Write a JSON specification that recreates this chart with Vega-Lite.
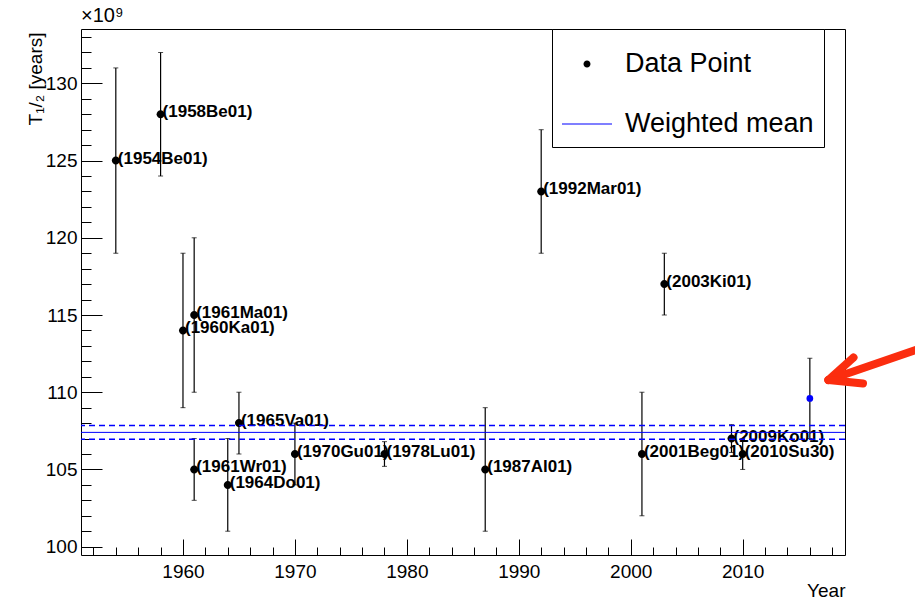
{
  "$schema": "https://vega.github.io/schema/vega-lite/v6.json",
  "width": 764,
  "height": 526,
  "autosize": {"type": "none"},
  "padding": {"left": 81, "top": 29, "right": 70, "bottom": 44},
  "background": "white",
  "title": {
    "text": "×10⁹",
    "anchor": "start",
    "frame": "group",
    "font": "Liberation Sans",
    "fontSize": 20,
    "fontWeight": "normal",
    "color": "black",
    "offset": 3
  },
  "config": {
    "view": {"stroke": "black", "strokeWidth": 1},
    "font": "Liberation Sans",
    "axis": {
      "domain": false,
      "grid": false,
      "tickColor": "black",
      "tickWidth": 1,
      "labelColor": "black",
      "labelFont": "Liberation Sans",
      "labelFontSize": 19,
      "titleFont": "Liberation Sans",
      "titleFontSize": 19,
      "titleFontWeight": "normal",
      "titleColor": "black"
    },
    "legend": {
      "orient": "none",
      "legendX": 471,
      "legendY": 0,
      "padding": 10,
      "strokeColor": "black",
      "fillColor": "white",
      "symbolSize": 2500,
      "symbolStrokeWidth": 0,
      "symbolOpacity": 1,
      "rowPadding": 22,
      "labelOffset": 13,
      "labelFont": "Liberation Sans",
      "labelFontSize": 27,
      "labelColor": "black",
      "labelLimit": 400
    }
  },
  "datasets": {
    "measurements": [
      {"year": 1954, "t": 125, "lo": 119, "hi": 131, "ref": "(1954Be01)", "kind": "Data Point"},
      {"year": 1958, "t": 128, "lo": 124, "hi": 132, "ref": "(1958Be01)", "kind": "Data Point"},
      {"year": 1960, "t": 114, "lo": 109, "hi": 119, "ref": "(1960Ka01)", "kind": "Data Point"},
      {"year": 1961, "t": 115, "lo": 110, "hi": 120, "ref": "(1961Ma01)", "kind": "Data Point"},
      {"year": 1961, "t": 105, "lo": 103, "hi": 107, "ref": "(1961Wr01)", "kind": "Data Point"},
      {"year": 1964, "t": 104, "lo": 101, "hi": 107, "ref": "(1964Do01)", "kind": "Data Point"},
      {"year": 1965, "t": 108, "lo": 106, "hi": 110, "ref": "(1965Va01)", "kind": "Data Point"},
      {"year": 1970, "t": 106, "lo": 104, "hi": 108, "ref": "(1970Gu01)", "kind": "Data Point"},
      {"year": 1978, "t": 106, "lo": 105.2, "hi": 106.8, "ref": "(1978Lu01)", "kind": "Data Point"},
      {"year": 1987, "t": 105, "lo": 101, "hi": 109, "ref": "(1987Al01)", "kind": "Data Point"},
      {"year": 1992, "t": 123, "lo": 119, "hi": 127, "ref": "(1992Mar01)", "kind": "Data Point"},
      {"year": 2001, "t": 106, "lo": 102, "hi": 110, "ref": "(2001Beg01)", "kind": "Data Point"},
      {"year": 2003, "t": 117, "lo": 115, "hi": 119, "ref": "(2003Ki01)", "kind": "Data Point"},
      {"year": 2009, "t": 107, "lo": 106.1, "hi": 107.9, "ref": "(2009Ko01)", "kind": "Data Point"},
      {"year": 2010, "t": 106, "lo": 105, "hi": 107, "ref": "(2010Su30)", "kind": "Data Point"},
      {"year": 2016, "t": 109.6, "lo": 107.0, "hi": 112.2, "ref": "", "kind": "Evaluated"}
    ],
    "mean": [
      {"t": 107.4, "line": "mean", "kind": "Weighted mean"},
      {"t": 106.95, "line": "band", "kind": "Weighted mean"},
      {"t": 107.85, "line": "band", "kind": "Weighted mean"}
    ],
    "arrow": [
      {"fromYear": 2026.9, "fromT": 113.1, "toYear": 2017.66, "toT": 110.79},
      {"fromYear": 2017.66, "fromT": 110.79, "toYear": 2019.9, "toT": 112.25},
      {"fromYear": 2017.66, "fromT": 110.79, "toYear": 2020.75, "toT": 110.57}
    ]
  },
  "resolve": {"axis": {"x": "independent", "y": "independent"}},
  "layer": [
    {
      "data": {"name": "measurements"},
      "mark": {"type": "rule", "color": "black", "strokeWidth": 1.2},
      "encoding": {
        "x": {
          "field": "year", "type": "quantitative",
          "scale": {"domain": [1950.89, 2019.14], "nice": false, "zero": false},
          "axis": {
            "orient": "bottom", "title": null, "labels": false, "tickSize": -8,
            "values": [1952, 1954, 1956, 1958, 1960, 1962, 1964, 1966, 1968, 1970, 1972, 1974, 1976, 1978, 1980, 1982, 1984, 1986, 1988, 1990, 1992, 1994, 1996, 1998, 2000, 2002, 2004, 2006, 2008, 2010, 2012, 2014, 2016, 2018]
          }
        },
        "y": {
          "field": "lo", "type": "quantitative",
          "scale": {"domain": [99.46, 133.52], "nice": false, "zero": false},
          "axis": {
            "orient": "left", "title": null, "labels": false, "tickSize": -10,
            "values": [100, 101, 102, 103, 104, 105, 106, 107, 108, 109, 110, 111, 112, 113, 114, 115, 116, 117, 118, 119, 120, 121, 122, 123, 124, 125, 126, 127, 128, 129, 130, 131, 132, 133]
          }
        },
        "y2": {"field": "hi"}
      }
    },
    {
      "data": {"name": "measurements"},
      "mark": {"type": "tick", "orient": "horizontal", "color": "black", "size": 5, "thickness": 1},
      "encoding": {
        "x": {"field": "year", "type": "quantitative", "scale": {"domain": [1950.89, 2019.14], "nice": false, "zero": false}, "axis": null},
        "y": {"field": "lo", "type": "quantitative", "scale": {"domain": [99.46, 133.52], "nice": false, "zero": false}, "axis": null}
      }
    },
    {
      "data": {"name": "measurements"},
      "mark": {"type": "tick", "orient": "horizontal", "color": "black", "size": 5, "thickness": 1},
      "encoding": {
        "x": {"field": "year", "type": "quantitative", "scale": {"domain": [1950.89, 2019.14], "nice": false, "zero": false}, "axis": null},
        "y": {"field": "hi", "type": "quantitative", "scale": {"domain": [99.46, 133.52], "nice": false, "zero": false}, "axis": null}
      }
    },
    {
      "data": {"name": "measurements"},
      "transform": [{"filter": "datum.kind === 'Data Point'"}],
      "mark": {"type": "point", "filled": true, "size": 3265, "opacity": 1, "strokeWidth": 0},
      "encoding": {
        "x": {
          "field": "year", "type": "quantitative",
          "scale": {"domain": [1950.89, 2019.14], "nice": false, "zero": false},
          "axis": {
            "orient": "bottom", "values": [1960, 1970, 1980, 1990, 2000, 2010],
            "tickSize": -16, "labelPadding": 23, "format": "d",
            "title": "Year", "titleAnchor": "end", "titleAlign": "right",
            "titleBaseline": "alphabetic", "titleX": 764, "titleY": 41
          }
        },
        "y": {
          "field": "t", "type": "quantitative",
          "scale": {"domain": [99.46, 133.52], "nice": false, "zero": false},
          "axis": {
            "orient": "left", "values": [100, 105, 110, 115, 120, 125, 130],
            "tickSize": -21, "labelPadding": 25,
            "title": "T₁/₂ [years]", "titleAngle": -90, "titleAlign": "right",
            "titleBaseline": "alphabetic", "titleX": -40, "titleY": 3
          }
        },
        "color": {
          "field": "kind", "type": "nominal",
          "scale": {"domain": ["Data Point", "Weighted mean"], "range": ["black", "#0000ff"]},
          "legend": {"title": null, "labelExpr": "datum.label + '\u00a0\u00a0'"}
        },
        "shape": {
          "field": "kind", "type": "nominal",
          "scale": {
            "domain": ["Data Point", "Weighted mean"],
            "range": ["M-0.14,0A0.14,0.14,0,1,0,0.14,0A0.14,0.14,0,1,0,-0.14,0Z", "M-1,-0.022H1V0.022H-1Z"]
          },
          "legend": {"title": null, "labelExpr": "datum.label + '\u00a0\u00a0'"}
        }
      }
    },
    {
      "data": {"name": "measurements"},
      "transform": [{"filter": "datum.kind === 'Evaluated'"}],
      "mark": {"type": "point", "filled": true, "size": 45, "opacity": 1, "color": "#0000ff"},
      "encoding": {
        "x": {"field": "year", "type": "quantitative", "scale": {"domain": [1950.89, 2019.14], "nice": false, "zero": false}, "axis": null},
        "y": {"field": "t", "type": "quantitative", "scale": {"domain": [99.46, 133.52], "nice": false, "zero": false}, "axis": null}
      }
    },
    {
      "data": {"name": "measurements"},
      "transform": [{"filter": "datum.kind === 'Data Point'"}],
      "mark": {
        "type": "text", "align": "left", "baseline": "alphabetic", "dx": 2, "dy": 3,
        "font": "Liberation Sans", "fontSize": 17, "fontWeight": "bold", "color": "black"
      },
      "encoding": {
        "x": {"field": "year", "type": "quantitative", "scale": {"domain": [1950.89, 2019.14], "nice": false, "zero": false}, "axis": null},
        "y": {"field": "t", "type": "quantitative", "scale": {"domain": [99.46, 133.52], "nice": false, "zero": false}, "axis": null},
        "text": {"field": "ref"}
      }
    },
    {
      "data": {"name": "mean"},
      "transform": [{"filter": "datum.line === 'mean'"}],
      "mark": {"type": "rule", "strokeWidth": 1},
      "encoding": {
        "y": {"field": "t", "type": "quantitative", "scale": {"domain": [99.46, 133.52], "nice": false, "zero": false}, "axis": null},
        "color": {"field": "kind", "type": "nominal", "scale": {"domain": ["Data Point", "Weighted mean"], "range": ["black", "#0000ff"]}}
      }
    },
    {
      "data": {"name": "mean"},
      "transform": [{"filter": "datum.line === 'band'"}],
      "mark": {"type": "rule", "strokeWidth": 1.5, "strokeDash": [6, 4]},
      "encoding": {
        "y": {"field": "t", "type": "quantitative", "scale": {"domain": [99.46, 133.52], "nice": false, "zero": false}, "axis": null},
        "color": {"field": "kind", "type": "nominal", "scale": {"domain": ["Data Point", "Weighted mean"], "range": ["black", "#0000ff"]}}
      }
    },
    {
      "data": {"name": "arrow"},
      "mark": {"type": "rule", "color": "#fb2d0f", "strokeWidth": 8, "strokeCap": "round"},
      "encoding": {
        "x": {"field": "fromYear", "type": "quantitative", "scale": {"domain": [1950.89, 2019.14], "nice": false, "zero": false}, "axis": null},
        "x2": {"field": "toYear"},
        "y": {"field": "fromT", "type": "quantitative", "scale": {"domain": [99.46, 133.52], "nice": false, "zero": false}, "axis": null},
        "y2": {"field": "toT"}
      }
    }
  ]
}
